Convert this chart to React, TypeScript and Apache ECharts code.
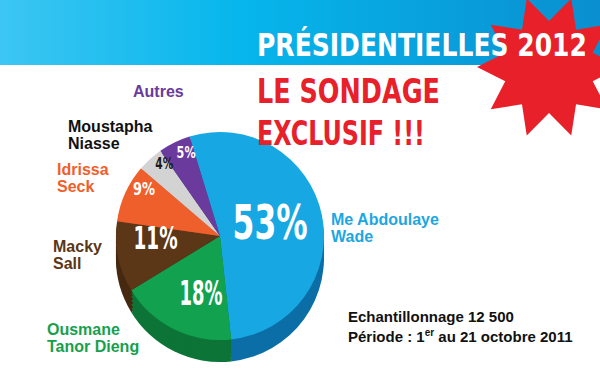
import React, { useEffect, useRef } from "react";
import * as echarts from "echarts";

// ---------- data ----------
const candidates = [
  "Me Abdoulaye\nWade",
  "Ousmane\nTanor Dieng",
  "Macky\nSall",
  "Idrissa\nSeck",
  "Moustapha\nNiasse",
  "Autres",
];
const shares = [53, 18, 11, 9, 4, 5];
const titleLines = ["PRÉSIDENTIELLES 2012", "LE SONDAGE", "EXCLUSIF !!!"];
const sampleText = "Echantillonnage 12 500";
const periodParts = ["Période : 1", "er", " au 21 octobre 2011"];

// ---------- styles / layout ----------
const sliceColors = ["#17a8e3", "#12a24f", "#5b3617", "#ef5f2b", "#d3d3d3", "#6a3a9d"];
const sideColors = ["#0c6ea6", "#0b7436", "#472910", "#b7421c", "#9c9c9c", "#4b2877"];
const nameColors = ["#1ca7e2", "#16a04e", "#5b3617", "#ef5f2b", "#111111", "#6a3a9d"];
const percentColors = ["#ffffff", "#ffffff", "#ffffff", "#ffffff", "#1a1a1a", "#ffffff"];
const pctFont = [48, 34, 32, 18, 15, 15];
const pctWidth = [75, 43, 44, 22, 18, 19];
const pctRatio = [0.5, 0.58, 0.62, 0.86, 0.88, 0.87];
const pctAngleShift = [4, 7.8, -9.8, -7.3, -4.7, -4];
const namePos: [number, number][] = [
  [331, 210.5],
  [47, 320.5],
  [53, 237.5],
  [57, 160.5],
  [68, 117.5],
  [133, 82.5],
];
const titleFont = [31.5, 34, 34];
const titleWidth = [330, 183, 168];
const titleY = [45, 91, 133];
const titleFill = ["#ffffff", "#e8202a", "#e8202a"];

const NARROW = '"Liberation Sans Narrow", "DejaVu Sans Condensed", sans-serif';
const SANS = '"Liberation Sans", Arial, sans-serif';

const CX = 220;
const CY = 236;
const R = 104;
const START = 107;
const sideOffsets = [22, 18, 14, 10, 6, 3];

let measureCtx: CanvasRenderingContext2D | null = null;
function fitScale(text: string, font: string, target: number) {
  if (!measureCtx) measureCtx = document.createElement("canvas").getContext("2d");
  if (!measureCtx) return 1;
  measureCtx.font = font;
  const w = measureCtx.measureText(text).width;
  return w > 0 ? target / w : 1;
}

function pctPoint(i: number): [number, number] {
  const total = shares.reduce((a, b) => a + b, 0);
  let before = 0;
  for (let k = 0; k < i; k++) before += shares[k];
  const mid = (before + shares[i] / 2) / total;
  const a = ((START - 360 * mid + pctAngleShift[i]) * Math.PI) / 180;
  const d = pctRatio[i] * R;
  return [CX + d * Math.cos(a), CY - d * Math.sin(a)];
}

function starPoints(cx: number, cy: number, ro: number, ri: number, n: number) {
  const pts: number[][] = [];
  for (let k = 0; k < n * 2; k++) {
    const r = k % 2 === 0 ? ro : ri;
    const a = (Math.PI * k) / n;
    pts.push([cx + r * Math.cos(a), cy + r * Math.sin(a)]);
  }
  return pts;
}

export default function App() {
  const ref = useRef<HTMLDivElement>(null);

  useEffect(() => {
    document.body.style.margin = "0";
    if (!ref.current) return;
    const chart = echarts.init(ref.current, undefined, { renderer: "svg" });

    const sideSeries = sideOffsets.map((off, j) => ({
      type: "pie",
      center: [CX, CY + off],
      radius: R,
      startAngle: START,
      clockwise: true,
      silent: true,
      z: 2 + j,
      label: { show: false },
      labelLine: { show: false },
      itemStyle: { borderWidth: 0 },
      emphasis: { disabled: true },
      data: shares.map((v, i) => ({
        value: v,
        name: candidates[i],
        itemStyle: { color: sideColors[i] },
      })),
    }));

    const frontSeries = {
      type: "pie",
      center: [CX, CY],
      radius: R,
      startAngle: START,
      clockwise: true,
      silent: true,
      z: 10,
      itemStyle: { borderWidth: 0 },
      emphasis: { disabled: true },
      label: { show: false },
      labelLine: { show: false },
      data: shares.map((v, i) => ({
        value: v,
        name: candidates[i],
        itemStyle: { color: sliceColors[i] },
      })),
    };

    const pctTexts = shares.map((v, i) => {
      const [x, y] = pctPoint(i);
      const font = `bold ${pctFont[i]}px ${NARROW}`;
      const text = `${v}%`;
      return {
        type: "text",
        z: 30,
        silent: true,
        x,
        y,
        scaleX: fitScale(text, font, pctWidth[i]),
        style: {
          text,
          fill: percentColors[i],
          font,
          align: "center",
          verticalAlign: "middle",
        },
      };
    });

    const titleTexts = titleLines.map((t, i) => {
      const font = `bold ${titleFont[i]}px ${NARROW}`;
      return {
        type: "text",
        z: 20,
        silent: true,
        x: 257,
        y: titleY[i],
        scaleX: fitScale(t, font, titleWidth[i]),
        style: { text: t, fill: titleFill[i], font, verticalAlign: "middle" },
      };
    });

    const graphics: any[] = [
      {
        type: "rect",
        z: 0,
        silent: true,
        shape: { x: 0, y: 0, width: 600, height: 65 },
        style: {
          fill: new echarts.graphic.LinearGradient(0, 0, 1, 0, [
            { offset: 0, color: "#3cc6f3" },
            { offset: 0.4, color: "#06b6ec" },
            { offset: 1, color: "#0a8fd0" },
          ]),
        },
      },
      {
        type: "polygon",
        z: 1,
        silent: true,
        shape: { points: starPoints(549, 67, 72, 46, 10) },
        style: { fill: "#e8202a" },
      },
      ...titleTexts,
      {
        type: "text",
        z: 20,
        x: 348,
        y: 316.5,
        style: {
          text: sampleText,
          fill: "#111111",
          font: `bold 15px ${SANS}`,
          verticalAlign: "middle",
        },
      },
      {
        type: "text",
        z: 20,
        x: 348,
        y: 336,
        style: {
          text: `{a|${periodParts[0]}}{s|${periodParts[1]}}{a|${periodParts[2]}}`,
          fill: "#111111",
          verticalAlign: "middle",
          rich: {
            a: { fontSize: 15, fontWeight: "bold", fontFamily: SANS, fill: "#111111", lineHeight: 18 },
            s: { fontSize: 10, fontWeight: "bold", fontFamily: SANS, fill: "#111111", verticalAlign: "top", lineHeight: 10 },
          },
        },
      },
      ...candidates.map((name, i) => ({
        type: "text",
        z: 20,
        x: namePos[i][0],
        y: namePos[i][1],
        style: {
          text: name,
          fill: nameColors[i],
          font: `bold 16px ${SANS}`,
          lineHeight: 17,
          verticalAlign: "top",
        },
      })),
      ...pctTexts,
    ];

    chart.setOption({
      animation: false,
      backgroundColor: "#ffffff",
      series: [...sideSeries, frontSeries],
      graphic: graphics,
    } as any);

    return () => chart.dispose();
  }, []);

  return <div ref={ref} style={{ width: 600, height: 372 }} />;
}
